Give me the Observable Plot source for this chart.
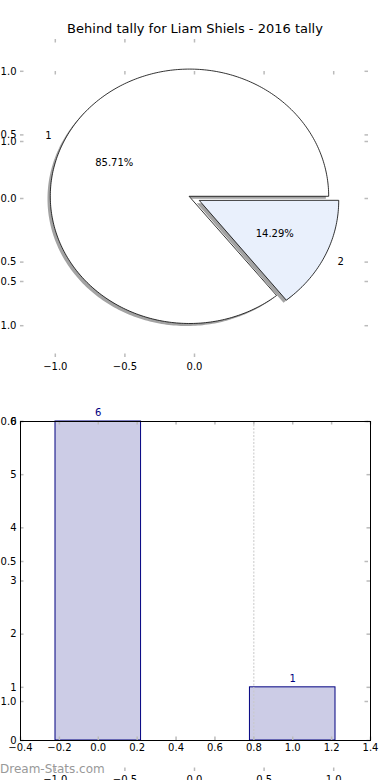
<!DOCTYPE html>
<html><head><meta charset="utf-8">
<script src="https://cdn.jsdelivr.net/npm/d3@7"></script>
<script src="https://cdn.jsdelivr.net/npm/@observablehq/plot@0.6"></script>
<style>
html,body{margin:0;padding:0;background:#fff;}
#wrap{position:relative;width:390px;height:780px;overflow:hidden;font-family:"DejaVu Sans",sans-serif;}
#wrap svg{position:absolute;left:0;top:0;}
#title{position:absolute;left:0;width:390px;top:21px;text-align:center;font-size:13px;color:#000;z-index:5;}
#mark{position:absolute;left:0;top:762px;font-size:12px;color:#999;z-index:5;}
</style></head><body>
<div id="wrap"></div>
<script>
// ---- data ----
const titleText = "Behind tally for Liam Shiels - 2016 tally";
const sliceNames = ["1", "2"];
const sliceValues = [6, 1];
const sliceColors = ["#ffffff", "#e9f0fc"];
const sliceExplode = [0.04, 0.04];
const barPositions = [0, 1];
const barValues = [6, 1];
const barLabels = ["6", "1"];
const unitTicks = [-1, -0.5, 0, 0.5, 1];
const pieXTicks = [-1, -0.5, 0];
const barXTicks = [-0.4, -0.2, 0, 0.2, 0.4, 0.6, 0.8, 1.0, 1.2, 1.4];
const barYTicks = [0, 1, 2, 3, 4, 5, 6];
const barGridX = [0.8];
const watermark = "Dream-Stats.com";

// ---- layout ----
const W = 390, H = 780;
const FONT = "DejaVu Sans, sans-serif";
const TICK = "#bbb", TL = 3.5, TW = 1.5;
const fmt1 = d3.format(".1f");
const wrap = document.getElementById("wrap");

function ticks4(pw, ph, xs, ys, sides) {
  const m = [];
  if (sides.includes("b")) m.push(Plot.tickX(xs, {x: d => d, insetTop: ph - TL, stroke: TICK, strokeWidth: TW}));
  if (sides.includes("t")) m.push(Plot.tickX(xs, {x: d => d, insetBottom: ph - TL, stroke: TICK, strokeWidth: TW}));
  if (sides.includes("l")) m.push(Plot.tickY(ys, {y: d => d, insetRight: pw - TL, stroke: TICK, strokeWidth: TW}));
  if (sides.includes("r")) m.push(Plot.tickY(ys, {y: d => d, insetLeft: pw - TL, stroke: TICK, strokeWidth: TW}));
  return m;
}
const baseStyle = {background: "none", overflow: "visible", fontSize: "10px", fontFamily: FONT, color: "#000"};

// ---- pie geometry from data ----
const total = d3.sum(sliceValues);
let cum = 0;
const wedgePts = [], nameLabels = [], pctLabels = [];
sliceValues.forEach((v, i) => {
  const a1 = cum / total * 2 * Math.PI, a2 = (cum + v) / total * 2 * Math.PI;
  cum += v;
  const mid = (a1 + a2) / 2;
  const ox = sliceExplode[i] * Math.cos(mid), oy = sliceExplode[i] * Math.sin(mid);
  wedgePts.push({s: i, x: ox, y: oy});
  const n = Math.max(4, Math.ceil((a2 - a1) / (Math.PI / 180)));
  for (let k = 0; k <= n; k++) {
    const a = a1 + (a2 - a1) * k / n;
    wedgePts.push({s: i, x: ox + Math.cos(a), y: oy + Math.sin(a)});
  }
  const lx = ox + 1.1 * Math.cos(mid), ly = oy + 1.1 * Math.sin(mid);
  nameLabels.push({x: lx, y: ly, t: sliceNames[i], anchor: lx > 0 ? "start" : "end"});
  pctLabels.push({x: ox + 0.6 * Math.cos(mid), y: oy + 0.6 * Math.sin(mid), t: (v / total * 100).toFixed(2) + "%"});
});

// ---- pie axes ----
{
  const mt = 39, mb = H - 357, ml = 20, mr = 22;
  const pw = W - ml - mr, ph = H - mt - mb;
  const marks = [];
  sliceValues.forEach((v, i) => {
    const pts = wedgePts.filter(d => d.s === i);
    marks.push(Plot.line(pts, {x: "x", y: "y", curve: "linear-closed", fill: "#a3a3a3", stroke: "none", dx: -2.8, dy: 2.5}));
    marks.push(Plot.line(pts, {x: "x", y: "y", curve: "linear-closed", fill: sliceColors[i], stroke: "#000", strokeWidth: 0.8}));
  });
  marks.push(Plot.text(nameLabels.filter(d => d.anchor === "end"), {x: "x", y: "y", text: "t", textAnchor: "end"}));
  marks.push(Plot.text(nameLabels.filter(d => d.anchor === "start"), {x: "x", y: "y", text: "t", textAnchor: "start"}));
  marks.push(Plot.text(pctLabels, {x: "x", y: "y", text: "t"}));
  marks.push(...ticks4(pw, ph, pieXTicks, unitTicks, "btlr"));
  marks.push(Plot.axisX(pieXTicks, {anchor: "bottom", tickSize: 0, tickPadding: 5, tickFormat: fmt1, label: null}));
  marks.push(Plot.axisY(unitTicks, {anchor: "left", tickSize: 0, tickPadding: 4, tickFormat: fmt1, label: null}));
  wrap.append(Plot.plot({width: W, height: H, marginTop: mt, marginBottom: mb, marginLeft: ml, marginRight: mr,
    x: {domain: [-1.25, 1.25]}, y: {domain: [-1.25, 1.25]}, style: baseStyle, marks}));
}

// ---- ghost full-figure axes ----
{
  const mt = 71, mb = H - 771, ml = 20, mr = 22;
  const pw = W - ml - mr, ph = H - mt - mb;
  const marks = [
    ...ticks4(pw, ph, unitTicks, unitTicks, "btlr"),
    Plot.axisX(unitTicks, {anchor: "bottom", tickSize: 0, tickPadding: 4, tickFormat: fmt1, label: null}),
    Plot.axisY(unitTicks, {anchor: "left", tickSize: 0, tickPadding: 4, tickFormat: fmt1, label: null})
  ];
  wrap.append(Plot.plot({width: W, height: H, marginTop: mt, marginBottom: mb, marginLeft: ml, marginRight: mr,
    x: {domain: [-1.25, 1.25]}, y: {domain: [-1.25, 1.25]}, style: baseStyle, marks}));
}

// ---- bar axes ----
{
  const mt = 421, mb = H - 740, ml = 20, mr = 20;
  const pw = W - ml - mr, ph = H - mt - mb;
  const bars = barPositions.map((x, i) => ({x, v: barValues[i], label: barLabels[i]}));
  const marks = [
    Plot.rectY(bars, {x1: d => d.x - 0.22, x2: d => d.x + 0.22, y: "v", fill: "#ccccE6", stroke: "#000080", strokeWidth: 1}),
    Plot.ruleX(barGridX, {stroke: "#c8c8c8", strokeDasharray: "2,1.5"}),
    Plot.text(bars, {x: "x", y: "v", text: "label", dy: -9, fill: "#000080"}),
    ...ticks4(pw, ph, barXTicks, barYTicks, "btlr"),
    Plot.frame({stroke: "#000", strokeWidth: 1}),
    Plot.axisX(barXTicks, {anchor: "bottom", tickSize: 0, tickPadding: 3, tickFormat: fmt1, label: null}),
    Plot.axisY(barYTicks, {anchor: "left", tickSize: 0, tickPadding: 4, tickFormat: d3.format("d"), label: null})
  ];
  wrap.append(Plot.plot({width: W, height: H, marginTop: mt, marginBottom: mb, marginLeft: ml, marginRight: mr,
    x: {domain: [-0.4, 1.4]}, y: {domain: [0, 6]}, style: baseStyle, marks}));
}

const t = document.createElement("div"); t.id = "title"; t.textContent = titleText; wrap.append(t);
const w = document.createElement("div"); w.id = "mark"; w.textContent = watermark; wrap.append(w);
</script>
</body></html>
